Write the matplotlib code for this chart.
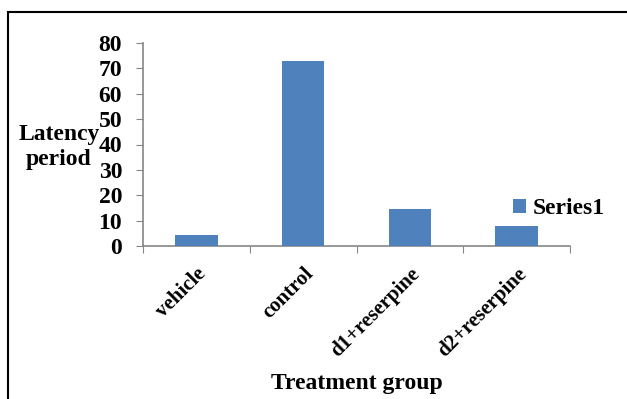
import matplotlib
matplotlib.use("Agg")
import matplotlib.pyplot as plt
from matplotlib.patches import Rectangle

categories = ["vehicle", "control", "d1+reserpine", "d2+reserpine"]
values = [4.2, 72.8, 14.6, 7.9]
yticks = [0, 10, 20, 30, 40, 50, 60, 70, 80]

plt.rcParams['font.family'] = 'serif'
plt.rcParams['font.serif'] = ['Liberation Serif', 'DejaVu Serif']
plt.rcParams['font.weight'] = 'bold'

W, H = 627, 399
fig = plt.figure(figsize=(W/100, H/100), dpi=100)
ax = fig.add_axes([143/W, 1-246/H, (570-143)/W, (246-43)/H])

x = list(range(len(categories)))
ax.bar(x, values, width=0.4, color='#4F81BD', label='Series1', zorder=3)
ax.set_xlim(-0.5, len(categories)-0.5)
ax.set_ylim(0, 80)
ax.set_yticks(yticks)
ax.set_yticklabels([str(t) for t in yticks], fontsize=17, fontweight='bold')
ax.set_xticks([i-0.5 for i in range(len(categories)+1)])
ax.set_xticklabels([])
ax.set_xticks(x, minor=True)
ax.set_xticklabels(categories, minor=True, rotation=45, ha='right', rotation_mode='anchor',
                   fontsize=15, fontweight='bold')
ax.tick_params(axis='x', which='minor', length=0, pad=13)
ax.tick_params(axis='x', which='major', length=5, color='#868686', direction='out')
ax.tick_params(axis='y', length=5, color='#868686', direction='out', pad=10)
for s in ['top', 'right']:
    ax.spines[s].set_visible(False)
for s in ['left', 'bottom']:
    ax.spines[s].set_color('#868686')
    ax.spines[s].set_linewidth(1.2)

fig.text(59/W, 1-147/H, "Latency\nperiod", ha='center', va='center', fontsize=17,
         fontweight='bold', linespacing=1.2)
fig.text(357/W, 1-384/H, "Treatment group", ha='center', va='center', fontsize=17,
         fontweight='bold')

leg = fig.legend(loc='center left', bbox_to_anchor=(501/W, 1-209/H), frameon=False,
                 prop={'size': 17, 'weight': 'bold'}, handlelength=0.55, handleheight=0.55,
                 handletextpad=0.3, borderpad=0)

fig.patches.append(Rectangle((8/W, -0.1), 1.2, 0.1 + (1-12/H), transform=fig.transFigure,
                             fill=False, edgecolor='black', linewidth=1.5))

fig.savefig("out.png", dpi=100)
